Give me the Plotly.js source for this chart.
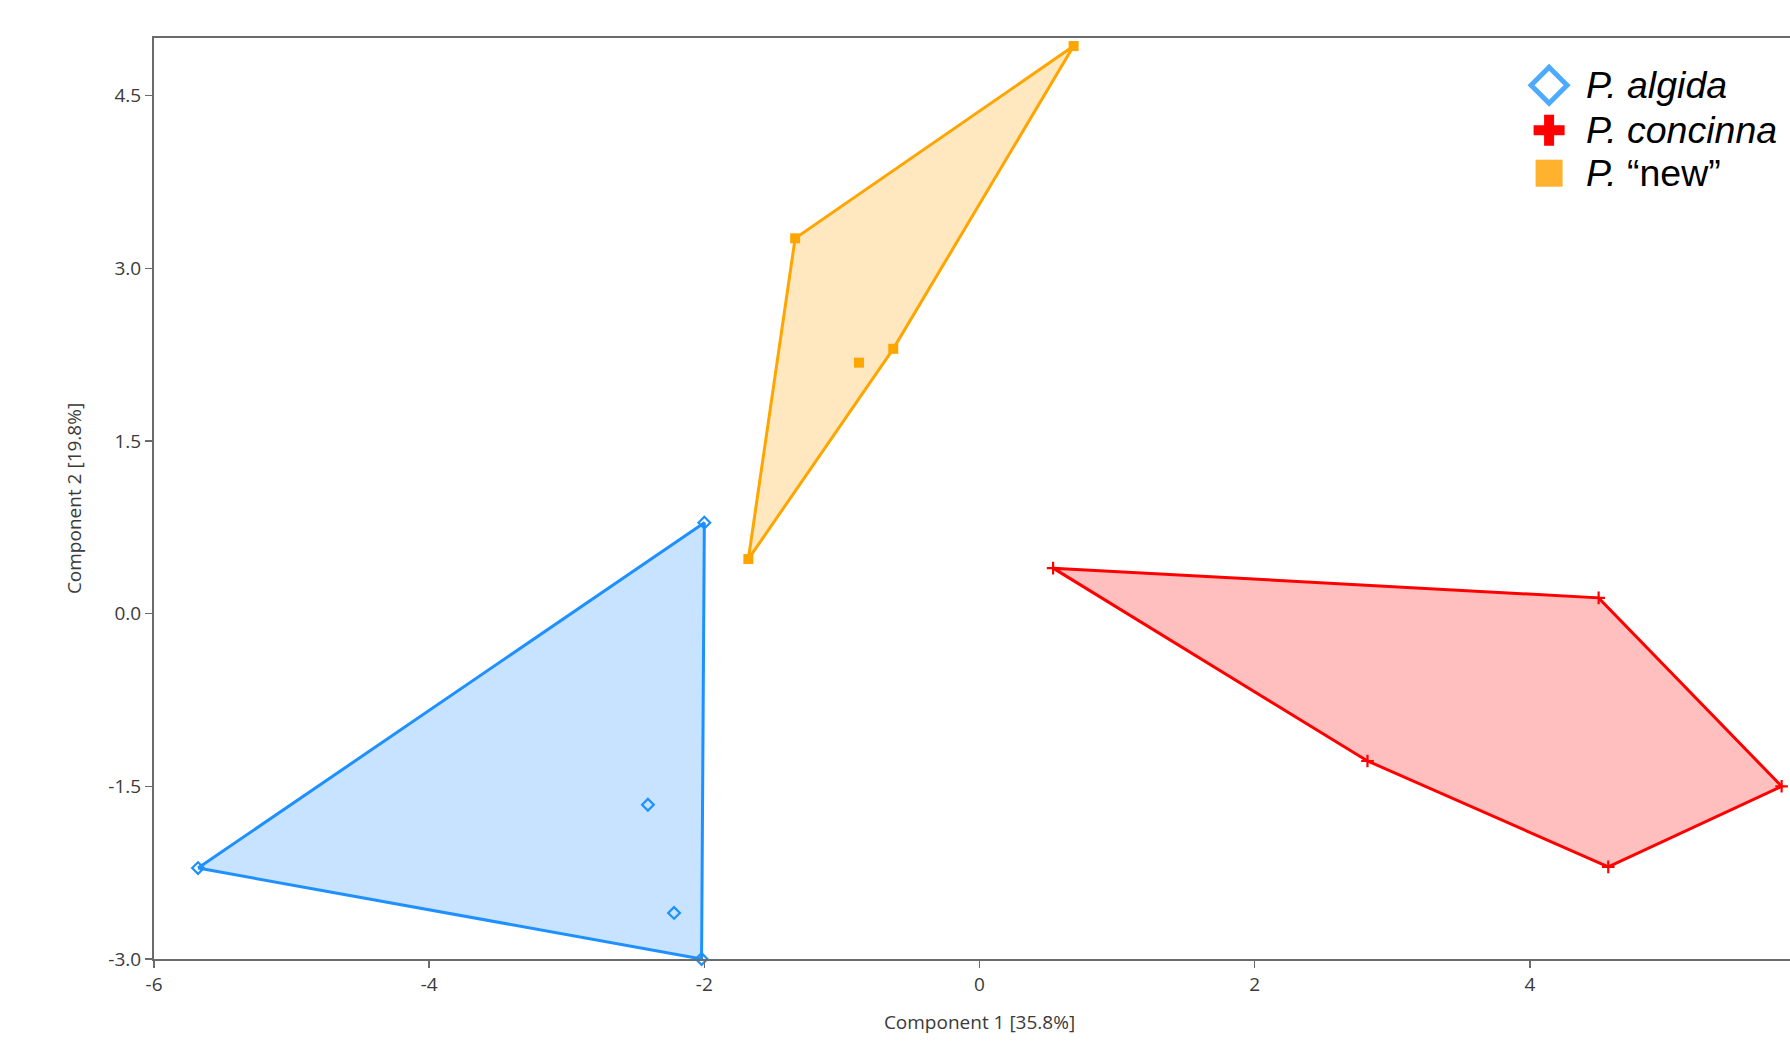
<!DOCTYPE html>
<html>
<head>
<meta charset="utf-8">
<script src="https://cdn.plot.ly/plotly-3.0.1.min.js"></script>
<style>
html, body { margin: 0; padding: 0; overflow: hidden; background: #ffffff; width: 1790px; height: 1048px; }
#chart { width: 1820px; height: 1048px; }
</style>
</head>
<body>
<div id="chart"></div>
<script>
// ---- Data ----
var algidaX = [-5.68, -2.00, -2.02, -2.41, -2.22];
var algidaY = [-2.21, 0.79, -3.00, -1.66, -2.60];

var concinnaX = [0.535, 4.50, 2.82, 4.57, 5.83];
var concinnaY = [0.395, 0.137, -1.28, -2.20, -1.50];

var newX = [0.684, -1.34, -0.627, -0.876, -1.68];
var newY = [4.93, 3.26, 2.30, 2.18, 0.474];

var groupNames = ['<i>P. algida</i>', '<i>P. concinna</i>', '<i>P.</i> \u201cnew\u201d'];

var xTickVals = [-6, -4, -2, 0, 2, 4];
var xTickText = ['-6', '-4', '-2', '0', '2', '4'];
var yTickVals = [-3.0, -1.5, 0.0, 1.5, 3.0, 4.5];
var yTickText = ['-3.0', '-1.5', '0.0', '1.5', '3.0', '4.5'];

var xTitle = 'Component 1 [35.8%]';
var yTitle = 'Component 2 [19.8%]';

// ---- Convex hull (monotone chain) ----
function hull(xs, ys) {
  var pts = xs.map(function (x, i) { return [x, ys[i]]; });
  pts.sort(function (a, b) { return a[0] - b[0] || a[1] - b[1]; });
  function cross(o, a, b) { return (a[0] - o[0]) * (b[1] - o[1]) - (a[1] - o[1]) * (b[0] - o[0]); }
  var lower = [], upper = [];
  pts.forEach(function (p) {
    while (lower.length >= 2 && cross(lower[lower.length - 2], lower[lower.length - 1], p) <= 0) lower.pop();
    lower.push(p);
  });
  for (var i = pts.length - 1; i >= 0; i--) {
    var p = pts[i];
    while (upper.length >= 2 && cross(upper[upper.length - 2], upper[upper.length - 1], p) <= 0) upper.pop();
    upper.push(p);
  }
  upper.pop(); lower.pop();
  var h = lower.concat(upper);
  h.push(h[0]);
  return { x: h.map(function (p) { return p[0]; }), y: h.map(function (p) { return p[1]; }) };
}

var groups = [
  { x: algidaX, y: algidaY, line: '#1E90FF', fill: 'rgba(30,144,255,0.25)',
    marker: { symbol: 'diamond-open', size: 9, color: '#1E90FF', line: { width: 2.2, color: '#1E90FF' } } },
  { x: concinnaX, y: concinnaY, line: '#FF0000', fill: 'rgba(255,0,0,0.25)',
    marker: { symbol: 'cross-thin-open', size: 9, color: '#FF0000', line: { width: 2.2, color: '#FF0000' } } },
  { x: newX, y: newY, line: '#FFA500', fill: 'rgba(255,165,0,0.25)',
    marker: { symbol: 'square', size: 10, color: '#FFA500', line: { width: 0 } } }
];

var traces = [];
groups.forEach(function (g, i) {
  var h = hull(g.x, g.y);
  traces.push({
    type: 'scatter', mode: 'lines', x: h.x, y: h.y,
    fill: 'toself', fillcolor: g.fill,
    line: { color: g.line, width: 3 },
    hoverinfo: 'skip', showlegend: false
  });
});
groups.forEach(function (g, i) {
  traces.push({
    type: 'scatter', mode: 'markers', x: g.x, y: g.y,
    name: groupNames[i], marker: g.marker, cliponaxis: false, showlegend: false
  });
});

// ---- Legend (drawn as annotations + pixel-sized shapes) ----
var legendRowsY = [0.9487, 0.8998, 0.8532];
var legendSymX = 0.845;
var legendTextX = 0.8662;

var annotations = groupNames.map(function (n, i) {
  return {
    xref: 'paper', yref: 'paper', x: legendTextX, y: legendRowsY[i],
    xanchor: 'left', yanchor: 'middle', showarrow: false, text: n,
    font: { family: 'Liberation Sans, Arial, sans-serif', size: 37.5, color: '#000000' }
  };
});

var shapes = [
  { type: 'path', xref: 'paper', yref: 'paper', xsizemode: 'pixel', ysizemode: 'pixel',
    xanchor: legendSymX, yanchor: legendRowsY[0],
    path: 'M -18 0 L 0 18 L 18 0 L 0 -18 Z',
    line: { color: '#4DAAFF', width: 5 }, fillcolor: 'rgba(0,0,0,0)' },
  { type: 'path', xref: 'paper', yref: 'paper', xsizemode: 'pixel', ysizemode: 'pixel',
    xanchor: legendSymX, yanchor: legendRowsY[1],
    path: 'M -15.5 -5 H -5 V -15.5 H 5 V -5 H 15.5 V 5 H 5 V 15.5 H -5 V 5 H -15.5 Z',
    line: { width: 0 }, fillcolor: '#FF0000' },
  { type: 'path', xref: 'paper', yref: 'paper', xsizemode: 'pixel', ysizemode: 'pixel',
    xanchor: legendSymX, yanchor: legendRowsY[2],
    path: 'M -13.5 -13.5 H 13.5 V 13.5 H -13.5 Z',
    line: { width: 0 }, fillcolor: '#FFB22E' }
];

var axisFont = { family: 'Open Sans, Noto Sans, sans-serif', size: 19, color: '#3a3a3a' };

var layout = {
  width: 1820, height: 1048,
  margin: { l: 154, r: 15, t: 38, b: 89, pad: 0 },
  paper_bgcolor: '#ffffff', plot_bgcolor: '#ffffff',
  showlegend: false,
  xaxis: {
    range: [-6, 6], showgrid: false, zeroline: false,
    showline: true, linecolor: '#6b6b6b', linewidth: 2, mirror: true,
    ticks: 'outside', ticklen: 7, tickwidth: 1.5, tickcolor: '#6b6b6b',
    tickvals: xTickVals, ticktext: xTickText, tickfont: axisFont,
    title: { text: xTitle, font: axisFont, standoff: 20 }
  },
  yaxis: {
    range: [-3, 5], showgrid: false, zeroline: false,
    showline: true, linecolor: '#6b6b6b', linewidth: 2, mirror: false,
    ticks: 'outside', ticklen: 7, tickwidth: 1.5, tickcolor: '#6b6b6b',
    tickvals: yTickVals, ticktext: yTickText, tickfont: axisFont,
    title: { text: yTitle, font: axisFont, standoff: 22 }
  },
  annotations: annotations,
  shapes: shapes
};

Plotly.newPlot('chart', traces, layout, { displayModeBar: false, responsive: false, staticPlot: true });
</script>
</body>
</html>
